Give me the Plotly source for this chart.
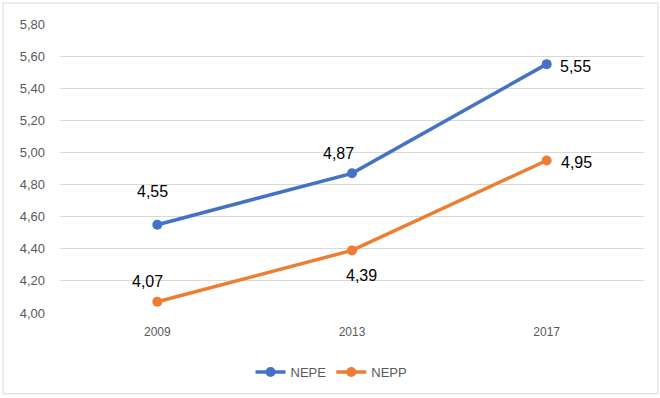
import plotly.graph_objects as go

years = ["2009", "2013", "2017"]
nepe = [4.55, 4.87, 5.55]
nepp = [4.07, 4.39, 4.95]
nepe_labels = ["4,55", "4,87", "5,55"]
nepp_labels = ["4,07", "4,39", "4,95"]
y_ticks = [4.0, 4.2, 4.4, 4.6, 4.8, 5.0, 5.2, 5.4, 5.6, 5.8]

BLUE = "#4472C4"
ORANGE = "#ED7D31"

fig = go.Figure()
fig.add_trace(go.Scatter(x=years, y=nepe, name="NEPE", mode="lines+markers",
                         line=dict(color=BLUE, width=3.5), marker=dict(size=10, color=BLUE)))
fig.add_trace(go.Scatter(x=years, y=nepp, name="NEPP", mode="lines+markers",
                         line=dict(color=ORANGE, width=3.5), marker=dict(size=10, color=ORANGE)))

nepe_shift = [(-5, 33), (-14, 20), (29, -2)]
nepp_shift = [(-10, 20), (9, -25), (30, -2)]
label_font = dict(size=16, color="#000000", family="Liberation Sans")
for i, (v, t, (dx, dy)) in enumerate(zip(nepe, nepe_labels, nepe_shift)):
    fig.add_annotation(x=i, y=v, xref="x", yref="y", text=t, showarrow=False,
                       xshift=dx, yshift=dy, font=label_font)
for i, (v, t, (dx, dy)) in enumerate(zip(nepp, nepp_labels, nepp_shift)):
    fig.add_annotation(x=i, y=v, xref="x", yref="y", text=t, showarrow=False,
                       xshift=dx, yshift=dy, font=label_font)

fig.update_layout(
    width=660, height=398,
    margin=dict(l=60, r=16, t=24, b=84),
    paper_bgcolor="white", plot_bgcolor="white",
    separators=", ",
    font=dict(family="Liberation Sans", color="#595959", size=13),
    showlegend=True,
    legend=dict(orientation="h", x=0.465, xanchor="center", y=-0.2, yanchor="middle",
                font=dict(size=13, color="#595959")),
    shapes=[dict(type="rect", xref="paper", yref="paper",
                 x0=(3 - 60) / 584, x1=(658 - 60) / 584,
                 y0=(314 - 395) / 290, y1=(314 - 3) / 290,
                 line=dict(color="#D9D9D9", width=1), layer="below")],
)
fig.update_xaxes(type="category", range=[-0.5, 2.5], showgrid=False, showline=False,
                 zeroline=False, ticks="", tickfont=dict(size=12, color="#595959"),
                 ticklabelstandoff=10)
fig.update_yaxes(range=[4.0, 5.8], tickvals=y_ticks, tickformat=".2f",
                 showgrid=True, gridcolor="#D9D9D9", gridwidth=1, zeroline=False,
                 showline=False, ticks="", tickfont=dict(size=13, color="#595959"),
                 ticklabelstandoff=14)

fig.write_html("out.html", config={"displayModeBar": False},
               post_script="document.body.style.margin='0';")
